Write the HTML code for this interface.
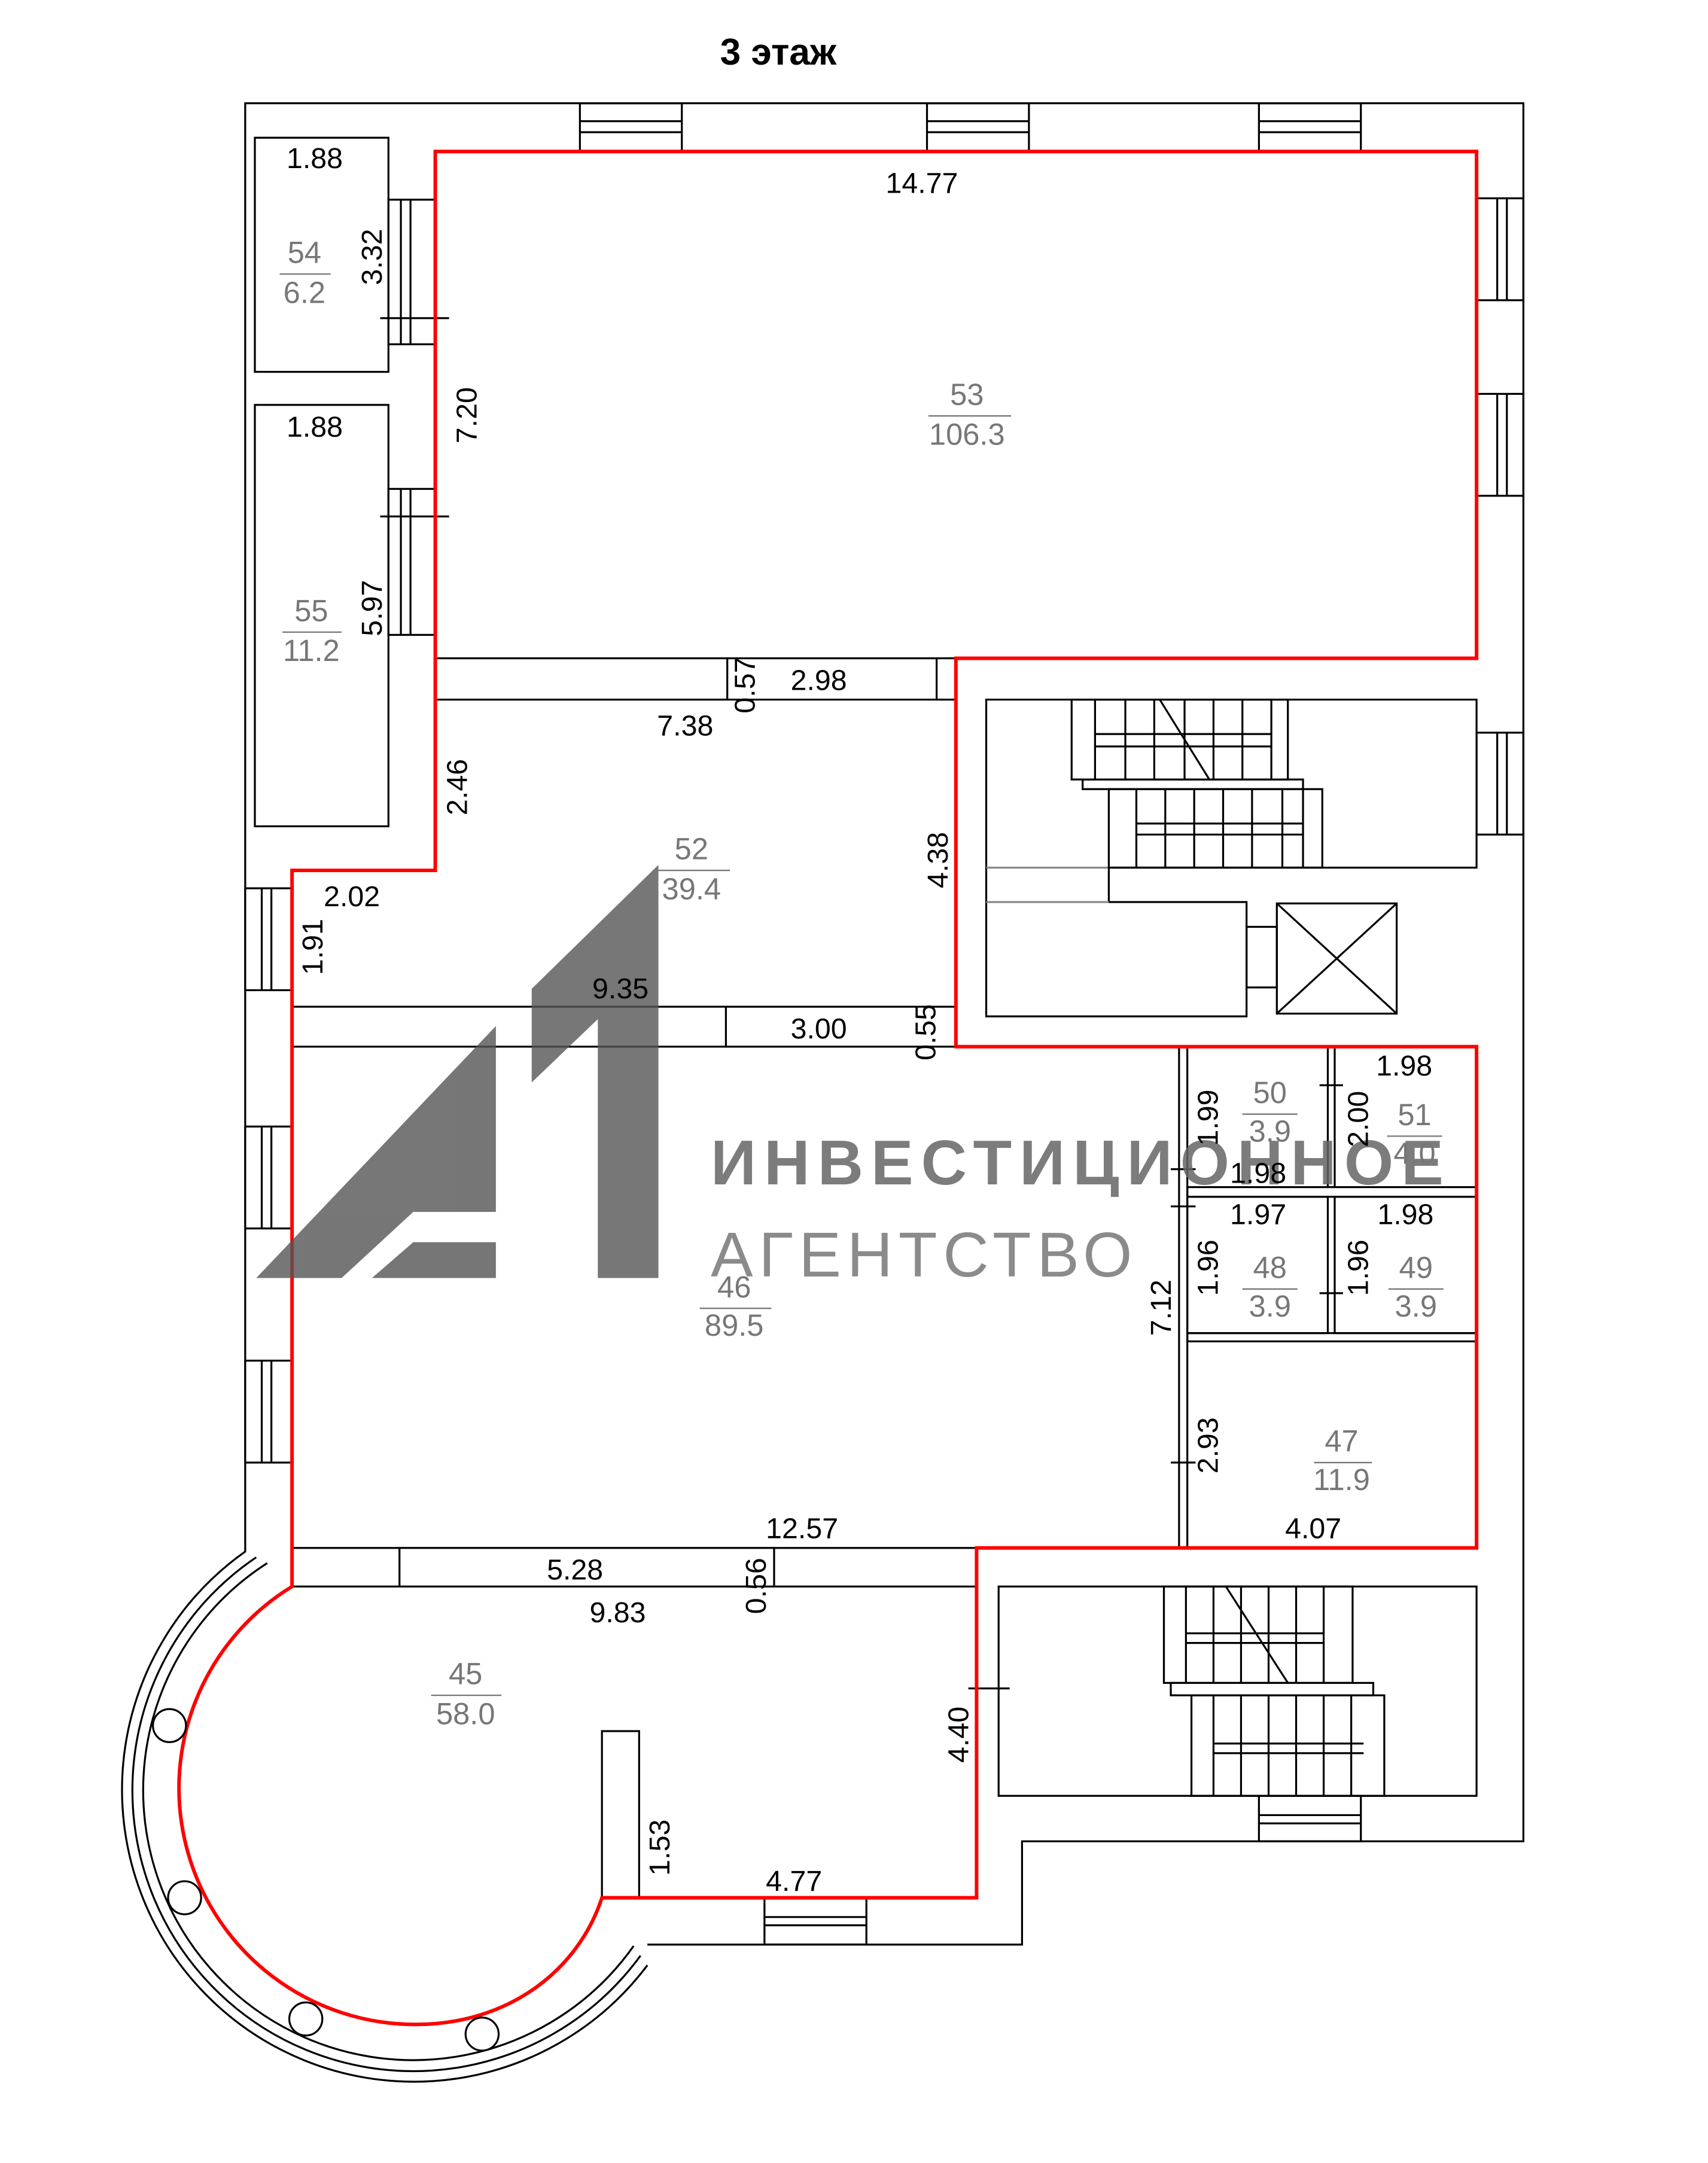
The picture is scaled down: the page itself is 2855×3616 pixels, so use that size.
<!DOCTYPE html>
<html><head><meta charset="utf-8"><style>
html,body{margin:0;padding:0;background:#fff}
svg{display:block}
.k{stroke:#000;stroke-width:1.4;fill:none}
.r{stroke:#f00;stroke-width:2.6;fill:none}
.d{font-family:"Liberation Sans",sans-serif;font-size:21px;fill:#000}
.a{font-family:"Liberation Sans",sans-serif;font-size:22px;fill:#777;text-anchor:middle}
</style></head><body>
<svg width="2855" height="3616" viewBox="0 0 1240 1570.6" xmlns="http://www.w3.org/2000/svg">
<text x="565" y="47" font-family="Liberation Sans,sans-serif" font-weight="bold" font-size="27" text-anchor="middle">3 этаж</text>
<g class="k">
<path d="M178,1127 V75 H1106 V1337 H742 V1412 H470"/>
<path d="M178,1126.6 A212,212 0 1 0 470,1427"/>
<path d="M186,1130.8 A204,204 0 1 0 465,1420"/>
<path d="M194,1135 A196,196 0 1 0 460,1413"/>
<rect x="421" y="75" width="74" height="35"/><line x1="421" y1="88" x2="495" y2="88"/><line x1="421" y1="96" x2="495" y2="96"/>
<rect x="673" y="75" width="74" height="35"/><line x1="673" y1="88" x2="747" y2="88"/><line x1="673" y1="96" x2="747" y2="96"/>
<rect x="914" y="75" width="74" height="35"/><line x1="914" y1="88" x2="988" y2="88"/><line x1="914" y1="96" x2="988" y2="96"/>
<rect x="1072" y="144" width="34" height="74"/><line x1="1087" y1="144" x2="1087" y2="218"/><line x1="1094" y1="144" x2="1094" y2="218"/>
<rect x="1072" y="286" width="34" height="74"/><line x1="1087" y1="286" x2="1087" y2="360"/><line x1="1094" y1="286" x2="1094" y2="360"/>
<rect x="1072" y="532" width="34" height="74"/><line x1="1087" y1="532" x2="1087" y2="606"/><line x1="1094" y1="532" x2="1094" y2="606"/>
<rect x="178" y="645" width="34" height="74"/><line x1="190" y1="645" x2="190" y2="719"/><line x1="197" y1="645" x2="197" y2="719"/>
<rect x="178" y="818" width="34" height="74"/><line x1="190" y1="818" x2="190" y2="892"/><line x1="197" y1="818" x2="197" y2="892"/>
<rect x="178" y="988" width="34" height="74"/><line x1="190" y1="988" x2="190" y2="1062"/><line x1="197" y1="988" x2="197" y2="1062"/>
<rect x="914" y="1304" width="74" height="33"/><line x1="914" y1="1318" x2="988" y2="1318"/><line x1="914" y1="1324" x2="988" y2="1324"/>
<rect x="555" y="1378" width="74" height="34"/><line x1="555" y1="1392" x2="629" y2="1392"/><line x1="555" y1="1398" x2="629" y2="1398"/>
<rect x="185" y="100" width="97" height="170"/>
<rect x="185" y="294" width="97" height="306"/>
<rect x="282" y="145" width="34" height="105"/><line x1="291" y1="145" x2="291" y2="250"/><line x1="298" y1="145" x2="298" y2="250"/><line x1="276" y1="231" x2="326" y2="231"/>
<rect x="282" y="355" width="34" height="106"/><line x1="291" y1="355" x2="291" y2="461"/><line x1="298" y1="355" x2="298" y2="461"/><line x1="276" y1="375" x2="326" y2="375"/>
<rect x="316" y="478" width="212" height="30"/><line x1="528" y1="478" x2="680" y2="478"/><line x1="528" y1="508" x2="680" y2="508"/><rect x="680" y="478" width="14" height="30"/>
<rect x="212" y="731" width="315" height="29"/><line x1="527" y1="731" x2="694" y2="731"/><line x1="527" y1="760" x2="694" y2="760"/>
<rect x="212" y="1124" width="78" height="28"/><line x1="290" y1="1124" x2="562" y2="1124"/><line x1="290" y1="1152" x2="562" y2="1152"/><rect x="562" y="1124" width="147" height="28"/>
<rect x="437" y="1257" width="27" height="121"/>
<line x1="856" y1="760" x2="856" y2="1124"/><line x1="862" y1="760" x2="862" y2="1124"/>
<line x1="964" y1="760" x2="964" y2="862"/><line x1="969" y1="760" x2="969" y2="862"/>
<rect x="862" y="862" width="210" height="7"/>
<rect x="862" y="869" width="102" height="99"/><rect x="969" y="869" width="103" height="99"/>
<rect x="862" y="968" width="210" height="6"/>
<line x1="958" y1="788" x2="975" y2="788"/><line x1="958" y1="939" x2="975" y2="939"/>
<line x1="850" y1="849" x2="868" y2="849"/><line x1="850" y1="876" x2="868" y2="876"/><line x1="850" y1="1062" x2="868" y2="1062"/>
<path d="M716,508 H1072 V630 H805 V655 H905 V738 H716 Z"/>
<line x1="716" y1="630" x2="805" y2="630" stroke="#888"/><line x1="716" y1="655" x2="805" y2="655" stroke="#888"/>
<rect x="778" y="508" width="157" height="58"/>
<rect x="786" y="566" width="160" height="7"/>
<rect x="805" y="573" width="155" height="57"/>
<line x1="795" y1="508" x2="795" y2="566"/><line x1="817" y1="508" x2="817" y2="566"/><line x1="838" y1="508" x2="838" y2="566"/><line x1="860" y1="508" x2="860" y2="566"/><line x1="881" y1="508" x2="881" y2="566"/><line x1="902" y1="508" x2="902" y2="566"/><line x1="923" y1="508" x2="923" y2="566"/>
<line x1="795" y1="533" x2="923" y2="533"/><line x1="795" y1="542" x2="923" y2="542"/>
<line x1="842" y1="508" x2="878" y2="566"/>
<line x1="825" y1="573" x2="825" y2="630"/><line x1="846" y1="573" x2="846" y2="630"/><line x1="867" y1="573" x2="867" y2="630"/><line x1="888" y1="573" x2="888" y2="630"/><line x1="909" y1="573" x2="909" y2="630"/><line x1="931" y1="573" x2="931" y2="630"/><line x1="946" y1="573" x2="946" y2="630"/>
<line x1="825" y1="598" x2="946" y2="598"/><line x1="825" y1="606" x2="946" y2="606"/>
<rect x="905" y="673" width="22" height="44"/>
<rect x="927" y="656" width="87" height="80"/><line x1="927" y1="656" x2="1014" y2="736"/><line x1="1014" y1="656" x2="927" y2="736"/>
<rect x="725" y="1152" width="347" height="152"/>
<rect x="845" y="1152" width="137" height="70"/>
<rect x="850" y="1222" width="147" height="9"/>
<rect x="865" y="1231" width="140" height="73"/>
<line x1="861" y1="1152" x2="861" y2="1222"/><line x1="881" y1="1152" x2="881" y2="1222"/><line x1="901" y1="1152" x2="901" y2="1222"/><line x1="921" y1="1152" x2="921" y2="1222"/><line x1="941" y1="1152" x2="941" y2="1222"/><line x1="961" y1="1152" x2="961" y2="1222"/>
<line x1="861" y1="1186" x2="961" y2="1186"/><line x1="861" y1="1193" x2="961" y2="1193"/>
<line x1="890" y1="1152" x2="935" y2="1222"/>
<line x1="881" y1="1231" x2="881" y2="1304"/><line x1="901" y1="1231" x2="901" y2="1304"/><line x1="921" y1="1231" x2="921" y2="1304"/><line x1="941" y1="1231" x2="941" y2="1304"/><line x1="961" y1="1231" x2="961" y2="1304"/><line x1="981" y1="1231" x2="981" y2="1304"/>
<line x1="881" y1="1266" x2="990" y2="1266"/><line x1="881" y1="1273" x2="990" y2="1273"/>
<line x1="703" y1="1226" x2="733" y2="1226"/>
</g>
<path class="r" d="M316,632 V110 H1072 V478 H694 V760 H1072 V1124 H709 V1378 H437 C420,1430 370,1470 301.6,1470 A171.6,171.6 0 0 1 212,1152 V632 Z"/>
<g class="k">
<circle cx="123" cy="1253" r="12" fill="#fff"/><circle cx="134" cy="1378" r="12" fill="#fff"/><circle cx="222" cy="1466" r="12" fill="#fff"/><circle cx="350" cy="1477" r="12" fill="#fff"/>
</g>
<g fill="#555" opacity="0.8">
<polygon points="186,928 360,745 360,880 300,880 248,928"/>
<polygon points="270,928 300,902 360,902 360,928"/>
<polygon points="386,718 478,628 478,928 434,928 434,740 386,786"/>
</g>
<text x="516" y="860" font-family="Liberation Sans,sans-serif" font-weight="bold" font-size="46" fill="#666" opacity="0.85" textLength="532">ИНВЕСТИЦИОННОЕ</text>
<text x="516" y="927" font-family="Liberation Sans,sans-serif" font-size="46" fill="#777" opacity="0.85" textLength="306">АГЕНТСТВО</text>
<g class="d">
<text x="208" y="122">1.88</text><text x="208" y="317">1.88</text>
<text x="643" y="140">14.77</text>
<text x="574" y="501">2.98</text><text x="477" y="534">7.38</text>
<text x="235" y="658">2.02</text><text x="430" y="725">9.35</text><text x="574" y="754">3.00</text>
<text x="999" y="781">1.98</text><text x="893" y="859">1.98</text><text x="893" y="889">1.97</text><text x="1000" y="889">1.98</text>
<text x="556" y="1117">12.57</text><text x="933" y="1117">4.07</text>
<text x="397" y="1147">5.28</text><text x="428" y="1178">9.83</text><text x="556" y="1373">4.77</text>
<text transform="translate(277,207) rotate(-90)">3.32</text>
<text transform="translate(346,322) rotate(-90)">7.20</text>
<text transform="translate(277,462) rotate(-90)">5.97</text>
<text transform="translate(548,518) rotate(-90)">0.57</text>
<text transform="translate(339,592) rotate(-90)">2.46</text>
<text transform="translate(688,645) rotate(-90)">4.38</text>
<text transform="translate(234,708) rotate(-90)">1.91</text>
<text transform="translate(679,770) rotate(-90)">0.55</text>
<text transform="translate(884,832) rotate(-90)">1.99</text>
<text transform="translate(993,833) rotate(-90)">2.00</text>
<text transform="translate(884,941) rotate(-90)">1.96</text>
<text transform="translate(993,941) rotate(-90)">1.96</text>
<text transform="translate(850,970) rotate(-90)">7.12</text>
<text transform="translate(884,1070) rotate(-90)">2.93</text>
<text transform="translate(556,1172) rotate(-90)">0.56</text>
<text transform="translate(703,1280) rotate(-90)">4.40</text>
<text transform="translate(486,1362) rotate(-90)">1.53</text>
</g>
<g class="a">
<text x="221" y="191">54</text><line x1="203" y1="199" x2="240" y2="199" stroke="#777"/><text x="221" y="220">6.2</text>
<text x="226" y="451">55</text><line x1="205" y1="459" x2="248" y2="459" stroke="#777"/><text x="226" y="480">11.2</text>
<text x="702" y="294">53</text><line x1="674" y1="302" x2="734" y2="302" stroke="#777"/><text x="702" y="323">106.3</text>
<text x="502" y="624">52</text><line x1="478" y1="632" x2="530" y2="632" stroke="#777"/><text x="502" y="653">39.4</text>
<text x="922" y="801">50</text><line x1="902" y1="809" x2="942" y2="809" stroke="#777"/><text x="922" y="829">3.9</text>
<text x="1027" y="817">51</text><line x1="1007" y1="825" x2="1047" y2="825" stroke="#777"/><text x="1027" y="845">4.0</text>
<text x="922" y="928">48</text><line x1="902" y1="936" x2="942" y2="936" stroke="#777"/><text x="922" y="956">3.9</text>
<text x="1028" y="928">49</text><line x1="1008" y1="936" x2="1048" y2="936" stroke="#777"/><text x="1028" y="956">3.9</text>
<text x="533" y="942">46</text><line x1="508" y1="950" x2="560" y2="950" stroke="#777"/><text x="533" y="970">89.5</text>
<text x="974" y="1054">47</text><line x1="954" y1="1062" x2="996" y2="1062" stroke="#777"/><text x="974" y="1082">11.9</text>
<text x="338" y="1223">45</text><line x1="313" y1="1231" x2="364" y2="1231" stroke="#777"/><text x="338" y="1252">58.0</text>
</g>
</svg>
</body></html>
